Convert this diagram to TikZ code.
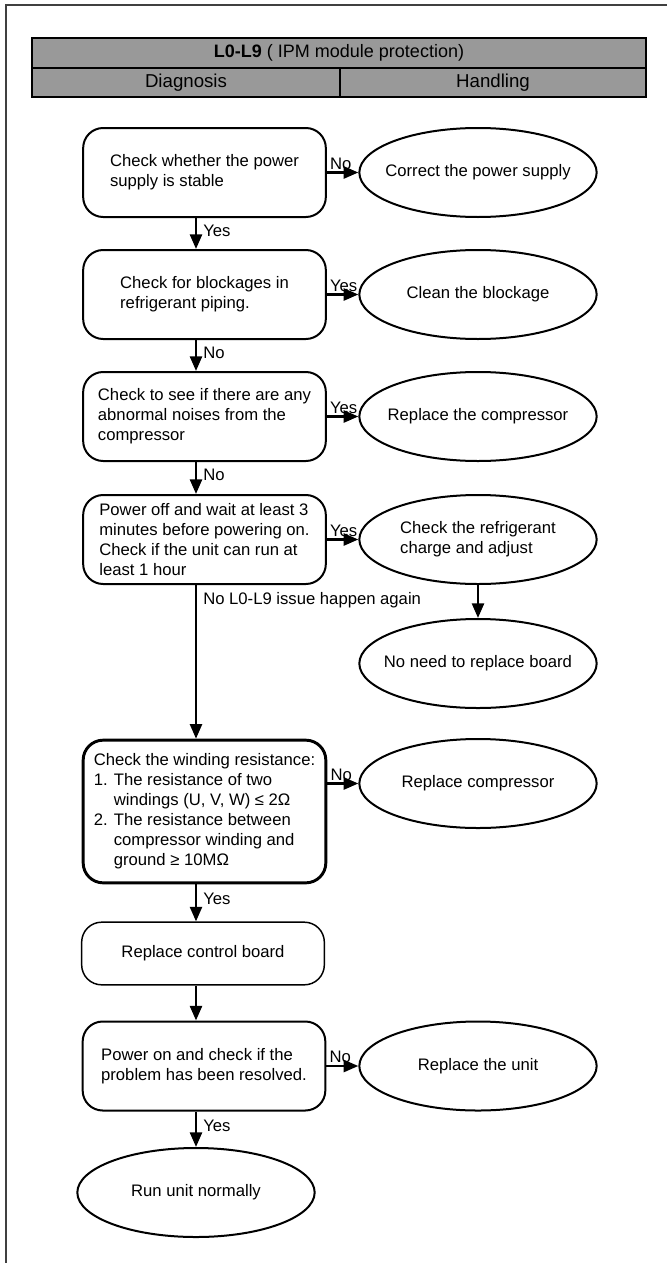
\documentclass[tikz,border=0pt]{standalone}
\usepackage{fontspec}
\setmainfont{Liberation Sans}
\usetikzlibrary{arrows.meta,positioning,shapes.geometric}

\begin{document}
\begin{tikzpicture}[x=0.75pt,y=-0.75pt,
    every node/.style={font=\fontsize{12.5}{15}\selectfont},
    check/.style={draw,line width=1.5pt,rounded corners=15pt,minimum width=182pt,minimum height=66.75pt,align=left,inner sep=0pt},
    answer/.style={draw,ellipse,line width=1.5pt,minimum width=178pt,minimum height=66.75pt,inner sep=0pt},
    arr/.style={line width=1.9pt,-{Triangle[length=11pt,width=9pt]}},
    lbl/.style={inner sep=1.5pt}]
\useasboundingbox (0,0) rectangle (667,1263);
\draw[black!75,line width=1pt] (6,1263) -- (6,5) -- (667,5);
% header
\draw[fill=black!40,line width=1.5pt] (32,38) rectangle (646,97);
\draw[line width=1.5pt] (32,68) -- (646,68) (340,68) -- (340,97);
\node[font=\fontsize{13.5}{16}\selectfont] (title) at (339,53) {\textbf{L0-L9} ( IPM module protection)};
\node[font=\fontsize{14}{16}\selectfont] (diag) at (186,83) {Diagnosis};
\node[font=\fontsize{14}{16}\selectfont] (hand) at (493,83) {Handling};
% diagnosis column
\coordinate (trunk) at (196,0);
\node[check] (b1) at (204.5,172.5) {Check whether the power\\supply is stable};
\node[check] (b2) at (204.5,294.5) {Check for blockages in\\refrigerant piping.};
\node[check] (b3) at (204.5,416.5) {Check to see if there are any\\abnormal noises from the\\compressor};
\node[check] (b4) at (204.5,539.5) {Power off and wait at least 3\\minutes before powering on.\\Check if the unit can run at\\least 1 hour};
\node[check,line width=2.2pt,minimum height=107pt] (b5) at (204.5,811.5) {Check the winding resistance:\\1. The resistance of two\\\phantom{1. }windings (U, V, W) ≤ 2Ω\\2. The resistance between\\\phantom{2. }compressor winding and\\\phantom{2. }ground ≥ 10MΩ};
\node[check,line width=1.1pt,minimum height=47pt] (b6) at (203,953.5) {Replace control board};
\node[check] (b7) at (204,1066) {Power on and check if the\\problem has been resolved.};
% handling
\foreach \n/\y/\t in {e1/172.5/{Correct the power supply},e2/294.5/{Clean the blockage},
    e3/416.5/{Replace the compressor},e4/539.5/{Check the refrigerant\\charge and adjust},
    e5/663.5/{No need to replace board},e6/783.5/{Replace compressor},e7/1066/{Replace the unit}}
  \node[answer,label={[align=left]center:\t}] (\n) at (478,\y) {};
\node[answer,label=center:Run unit normally] (e8) at (196,1192.5) {};
% connectors
\draw[arr] (b1) -- node[lbl,above right,pos=0] {No} (e1);
\draw[arr] (b2) -- node[lbl,above right,pos=0] {Yes} (e2);
\draw[arr] (b3) -- node[lbl,above right,pos=0] {Yes} (e3);
\draw[arr] (b4) -- node[lbl,above right,pos=0] {Yes} (e4);
\draw[arr] (b5.east |- e6) -- node[lbl,above right,pos=0] {No} (e6);
\draw[arr] (b7) -- node[lbl,above right,pos=0] {No} (e7);
\draw[arr] (e4) -- (e5);
\draw[arr] (b1.south -| trunk) -- node[lbl,right=3pt,pos=.4] {Yes} (b2.north -| trunk);
\draw[arr] (b2.south -| trunk) -- node[lbl,right=3pt,pos=.4] {No} (b3.north -| trunk);
\draw[arr] (b3.south -| trunk) -- node[lbl,right=3pt,pos=.4] {No} (b4.north -| trunk);
\draw[arr] (b4.south -| trunk) -- node[lbl,right=3pt,pos=.1] {No L0-L9 issue happen again} (b5.north -| trunk);
\draw[arr] (b5.south -| trunk) -- node[lbl,right=3pt,pos=.4] {Yes} (b6.north -| trunk);
\draw[arr] (b6.south -| trunk) -- (b7.north -| trunk);
\draw[arr] (b7.south -| trunk) -- node[lbl,right=3pt,pos=.4] {Yes} (e8);
\end{tikzpicture}
\end{document}
